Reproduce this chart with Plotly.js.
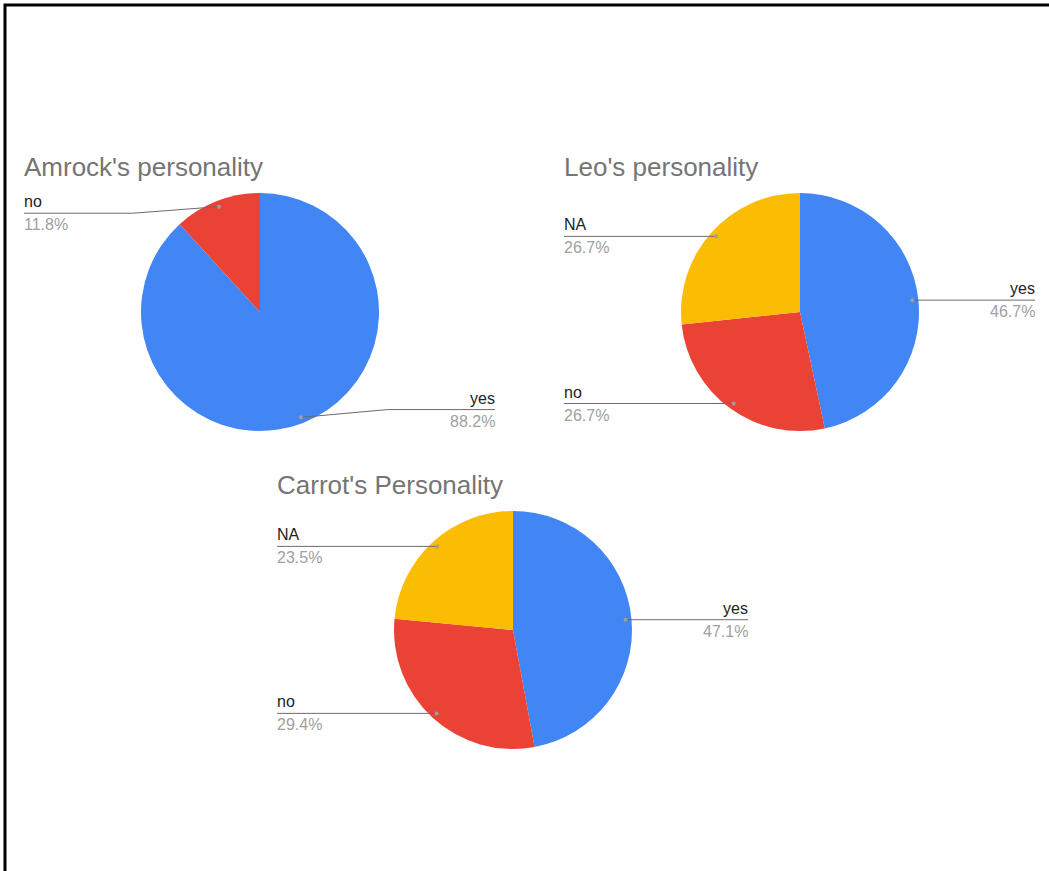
<!DOCTYPE html>
<html>
<head>
<meta charset="utf-8">
<script src="https://cdn.plot.ly/plotly-3.0.1.min.js"></script>
<style>
  html, body { margin: 0; padding: 0; background: #ffffff; }
  #chart { width: 1049px; height: 871px; }
</style>
</head>
<body>
<div id="chart"></div>
<script>
// ---- data ----
const amrockLabels = ["yes", "no"];
const amrockValues = [88.2, 11.8];

const leoLabels = ["yes", "no", "NA"];
const leoValues = [46.7, 26.7, 26.7];

const carrotLabels = ["yes", "no", "NA"];
const carrotValues = [47.1, 29.4, 23.5];

const chartTitles = ["Amrock's personality", "Leo's personality", "Carrot's Personality"];
const sliceColors = {"yes": "#4285F4", "no": "#EA4335", "NA": "#FBBC04"};

// ---- layout geometry ----
const W = 1049, H = 871;
const R = 119;
const pies = [
  {labels: amrockLabels, values: amrockValues, title: chartTitles[0], cx: 260, cy: 312},
  {labels: leoLabels,    values: leoValues,    title: chartTitles[1], cx: 800, cy: 312},
  {labels: carrotLabels, values: carrotValues, title: chartTitles[2], cx: 513, cy: 630}
];

const px = x => x / W;
const py = y => 1 - y / H;

const traces = [];
const shapes = [];
const annotations = [];

const FONT = "'Liberation Sans', Arial, sans-serif";

pies.forEach(p => {
  traces.push({
    type: "pie",
    labels: p.labels,
    values: p.values,
    sort: false,
    direction: "clockwise",
    rotation: 0,
    textinfo: "none",
    hoverinfo: "none",
    showlegend: false,
    marker: {colors: p.labels.map(l => sliceColors[l]), line: {width: 0}},
    domain: {x: [px(p.cx - R), px(p.cx + R)], y: [py(p.cy + R), py(p.cy - R)]}
  });

  // title
  annotations.push({
    xref: "paper", yref: "paper",
    x: px(p.cx - 238), y: py(p.cy - 145),
    xanchor: "left", yanchor: "middle",
    text: p.title, showarrow: false,
    font: {family: FONT, size: 26, color: "#757575"}
  });

  const total = p.values.reduce((a, b) => a + b, 0);
  let cum = 0;
  p.values.forEach((v, i) => {
    const th = 2 * Math.PI * (cum + v / 2) / total;
    cum += v;
    const r = 0.95 * R;
    const dx = p.cx + r * Math.sin(th);
    const dy = p.cy - r * Math.cos(th);
    const left = Math.sin(th) < 0;
    const lineY = Math.min(Math.max(dy, p.cy - 0.83 * R), p.cy + 0.82 * R);
    const endX = left ? p.cx - 236 : p.cx + 235;
    const pts = [[dx, dy]];
    if (Math.abs(lineY - dy) > 0.5) {
      pts.push([p.cx + (left ? -1.07 : 1.07) * R, lineY]);
    }
    pts.push([endX, lineY]);
    const path = pts.map((q, k) => (k ? "L" : "M") + px(q[0]) + "," + py(q[1])).join(" ");
    shapes.push({type: "path", xref: "paper", yref: "paper", path: path,
                 line: {color: "#6b6b6b", width: 1}});
    shapes.push({type: "circle", xref: "paper", yref: "paper",
                 x0: px(dx - 2), x1: px(dx + 2), y0: py(dy + 2), y1: py(dy - 2),
                 fillcolor: "#9e9e9e", line: {width: 0}});

    const pct = (100 * v / total).toFixed(1) + "%";
    annotations.push({
      xref: "paper", yref: "paper",
      x: px(left ? endX - 2 : endX + 2), y: py(lineY - 1),
      xanchor: left ? "left" : "right", yanchor: "bottom",
      text: p.labels[i], showarrow: false,
      font: {family: FONT, size: 16, color: "#222222"}
    });
    annotations.push({
      xref: "paper", yref: "paper",
      x: px(left ? endX - 2 : endX + 2), y: py(lineY + 1),
      xanchor: left ? "left" : "right", yanchor: "top",
      text: pct, showarrow: false,
      font: {family: FONT, size: 16, color: "#a0a0a0"}
    });
  });
});

// frame border
shapes.push({type: "rect", xref: "paper", yref: "paper",
             x0: px(5), x1: px(1070), y0: py(890), y1: py(5),
             line: {color: "#000000", width: 3}, fillcolor: "rgba(0,0,0,0)"});

const layout = {
  width: W, height: H,
  margin: {l: 0, r: 0, t: 0, b: 0},
  paper_bgcolor: "#ffffff",
  plot_bgcolor: "#ffffff",
  showlegend: false,
  hovermode: false,
  font: {family: FONT},
  shapes: shapes,
  annotations: annotations
};

Plotly.newPlot("chart", traces, layout, {displayModeBar: false, staticPlot: true});
</script>
</body>
</html>
